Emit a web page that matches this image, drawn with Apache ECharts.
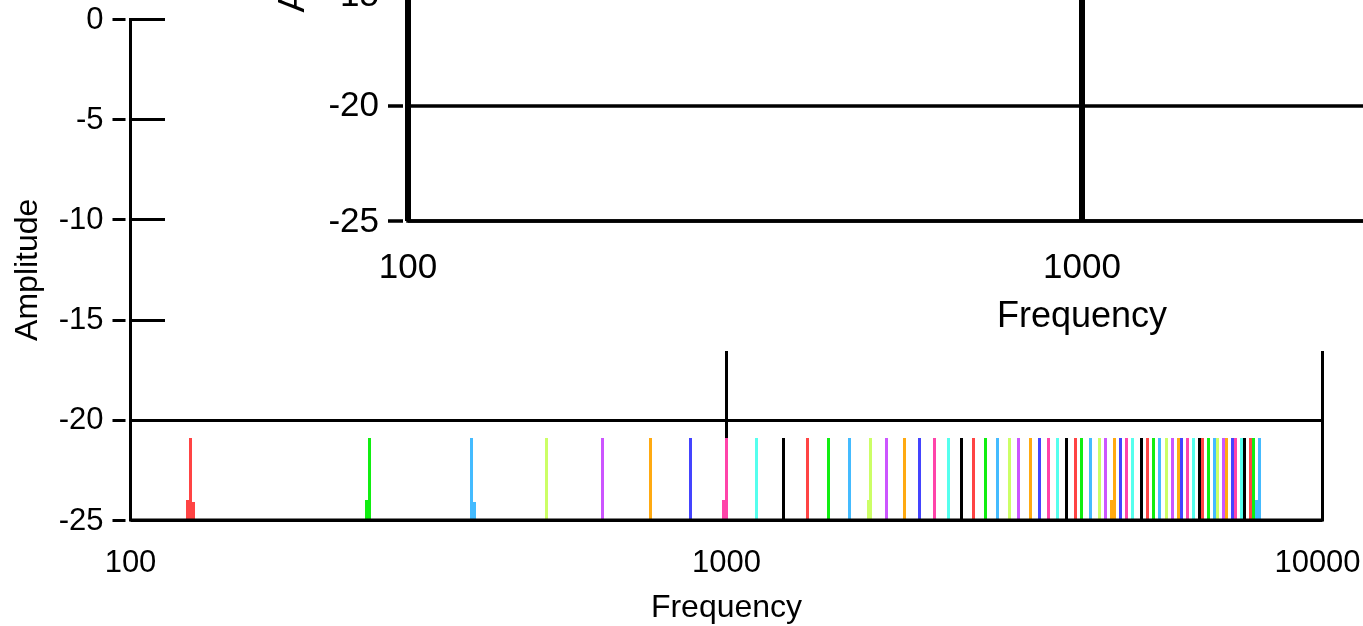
<!DOCTYPE html>
<html>
<head>
<meta charset="utf-8">
<script src="https://cdn.jsdelivr.net/npm/echarts@6/dist/echarts.min.js"></script>
<style>
html, body { margin:0; padding:0; width:1363px; height:626px; overflow:hidden; background:#fff; }
#mainChart { position:absolute; left:0; top:0; width:1363px; height:626px; }
#insetChart { position:absolute; left:165px; top:-420px; width:1635px; height:771px; background:#fff; z-index:2; }
</style>
</head>
<body>
<div id="mainChart"></div>
<div id="insetChart"></div>
<script>
// spectral lines (Hz), one per harmonic
var lineFreq = [126, 252, 373, 498, 620, 746, 871, 1000, 1123, 1247,
	1369, 1485, 1611, 1746, 1852, 1986, 2105, 2231, 2360, 2477,
	2595, 2719, 2848, 2984, 3090, 3237, 3352, 3471, 3594, 3722,
	3854, 3945, 4085, 4230, 4329, 4483, 4588, 4696, 4807, 4977,
	5094, 5214, 5337, 5463, 5591, 5723, 5789, 5926, 6065, 6208,
	6281, 6429, 6580, 6657, 6813, 6893, 7055, 7137, 7305, 7390,
	7564, 7652, 7832];
var lineAmp = [-20.9, -20.9, -20.9, -20.9, -20.9, -20.9, -20.9, -20.9, -20.9, -20.9,
	-20.9, -20.9, -20.9, -20.9, -20.9, -20.9, -20.9, -20.9, -20.9, -20.9,
	-20.9, -20.9, -20.9, -20.9, -20.9, -20.9, -20.9, -20.9, -20.9, -20.9,
	-20.9, -20.9, -20.9, -20.9, -20.9, -20.9, -20.9, -20.9, -20.9, -20.9,
	-20.9, -20.9, -20.9, -20.9, -20.9, -20.9, -20.9, -20.9, -20.9, -20.9,
	-20.9, -20.9, -20.9, -20.9, -20.9, -20.9, -20.9, -20.9, -20.9, -20.9,
	-20.9, -20.9, -20.9];

// small side peaks next to some harmonics
var sideFreq = [124.5, 127.5, 249, 377.5, 989, 1728, 4431, 7742];
var sideAmp = [-24, -24.1, -24, -24.1, -24, -24, -24, -24];
var sideHarm = [1, 1, 2, 3, 8, 14, 36, 63];

var freqTicks = [100, 1000, 10000];
var ampMin = -25, ampMax = 0, ampStep = 5;

var palette = ['#ff4444', '#11ee11', '#44bbff', '#ccff66', '#cc55ff',
	'#ffaa11', '#4444ff', '#ff44aa', '#55ffee', '#000000'];
var fontFam = 'Liberation Sans';

function harmColor(h) {
	return palette[(h - 1) % palette.length];
}

function renderStem(params, api) {
	var f = api.value(0);
	var p0 = api.coord([f, ampMin]);
	var p1 = api.coord([f, api.value(1)]);
	var x = Math.round(p0[0] - 0.5) + 0.5;
	return {
		type: 'line',
		shape: { x1: x, y1: p0[1], x2: x, y2: p1[1] },
		style: { stroke: api.visual('color'), lineWidth: 3 }
	};
}

function axisSet(o) {
	// o: font sizes, tick lengths, gaps for one of the two plots
	var txt = { fontSize: o.font, fontFamily: fontFam, color: '#000' };
	return {
		xAxis: {
			type: 'log', logBase: 10, min: freqTicks[0], max: freqTicks[freqTicks.length - 1],
			offset: o.xOff,
			axisLine: { show: false },
			axisTick: { show: true, length: o.tick, lineStyle: { color: '#000', width: o.tickW } },
			minorTick: { show: false },
			axisLabel: {
				margin: o.xMargin, fontSize: o.font, fontFamily: fontFam, color: '#000',
				formatter: function (v) {
					var s = '' + Math.round(v);
					// last label sits a little inside the right edge
					return Math.round(v) === freqTicks[freqTicks.length - 1] ? '{edge|' + s + '}' : s;
				},
				rich: { edge: echarts.util.extend({ padding: [0, 10, 0, 0] }, txt) }
			},
			splitLine: { show: true, lineStyle: { color: '#000', width: o.xSplitW } },
			name: 'Frequency', nameLocation: 'middle', nameGap: o.xNameGap,
			nameTextStyle: { fontSize: o.nameFont, fontFamily: fontFam, color: '#000' }
		},
		yAxis: {
			type: 'value', min: ampMin, max: ampMax, interval: ampStep,
			offset: o.yOff,
			axisLine: { show: false },
			axisTick: { show: true, length: o.tick, lineStyle: { color: '#000', width: o.tickW } },
			axisLabel: {
				margin: o.yMargin, fontSize: o.font, fontFamily: fontFam, color: '#000',
				padding: [2, 0, 0, 0],
				formatter: function (v) {
					return v === o.lowLabel ? '{low|' + v + '}' : '' + v;
				},
				rich: { low: echarts.util.extend({ padding: [10, 0, 0, 0] }, txt) }
			},
			splitLine: { show: true, lineStyle: { color: '#000', width: o.ySplitW } },
			name: 'Amplitude', nameLocation: 'middle', nameGap: o.yNameGap,
			nameTextStyle: { fontSize: o.nameFont, fontFamily: fontFam, color: '#000' }
		}
	};
}

var mainData = [], sideData = [];
for (var i = 0; i < lineFreq.length; i++) {
	mainData.push({ value: [lineFreq[i], lineAmp[i]], itemStyle: { color: harmColor(i + 1) } });
}
for (var j = 0; j < sideFreq.length; j++) {
	sideData.push({ value: [sideFreq[j], sideAmp[j]], itemStyle: { color: harmColor(sideHarm[j]) } });
}

var mainAxes = axisSet({ xOff: 6, yOff: 5, tick: 13, tickW: 3, xMargin: 22, yMargin: 22,
	font: 31, nameFont: 32, xSplitW: 3, ySplitW: 3, xNameGap: 66, yNameGap: 81, lowLabel: null });

var mainChart = echarts.init(document.getElementById('mainChart'), null, { renderer: 'canvas' });
mainChart.setOption({
	animation: false,
	backgroundColor: '#fff',
	grid: { left: 130.5, right: 40.5, top: 19.5, bottom: 106, show: true, outerBoundsMode: 'none',
		containLabel: false, borderColor: '#000', borderWidth: 3, backgroundColor: 'transparent', z: 2 },
	xAxis: mainAxes.xAxis,
	yAxis: mainAxes.yAxis,
	series: [
		{ type: 'custom', name: 'harmonics', renderItem: renderStem, data: mainData, z: 1, clip: true },
		{ type: 'custom', name: 'side', renderItem: renderStem, data: sideData, z: 1, clip: true }
	]
});

// zoomed copy laid over the upper part of the main plot
var insetAxes = axisSet({ xOff: 6, yOff: 5, tick: 15, tickW: 3.5, xMargin: 24, yMargin: 24,
	font: 35, nameFont: 36, xSplitW: 6, ySplitW: 3.5, xNameGap: 72, yNameGap: 91, lowLabel: -15 });

var insetChart = echarts.init(document.getElementById('insetChart'), null, { renderer: 'canvas' });
insetChart.setOption({
	animation: false,
	backgroundColor: '#fff',
	grid: { left: 243, right: 44, top: 64, bottom: 130, show: true, outerBoundsMode: 'none',
		containLabel: false, borderColor: '#000', borderWidth: 3.5, backgroundColor: 'transparent', z: 2 },
	xAxis: insetAxes.xAxis,
	yAxis: insetAxes.yAxis,
	series: [
		{ type: 'custom', name: 'harmonics', renderItem: renderStem, data: [], z: 1 }
	]
});
</script>
</body>
</html>
